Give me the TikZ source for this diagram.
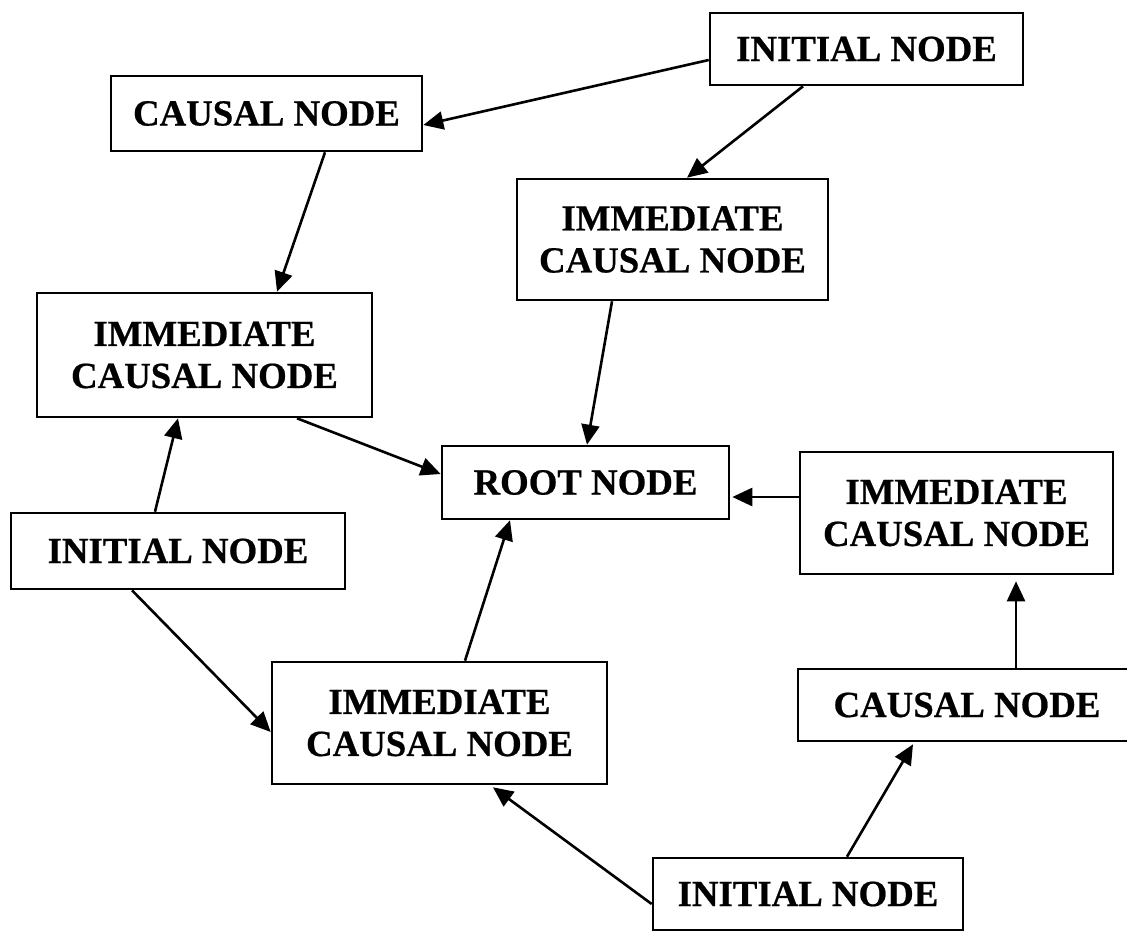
\documentclass[tikz,border=0pt]{standalone}
\usepackage{fontspec}
\setmainfont[BoldFeatures={FakeBold=0.6}]{Liberation Serif}
\usetikzlibrary{arrows.meta}
\begin{document}
\begin{tikzpicture}[x=1pt,y=-1pt,
  box/.style={draw=black, line width=2.6pt, inner sep=0pt, align=center,
    font=\fontsize{36.8}{42}\selectfont\bfseries, text=black},
  arr/.style={draw=black, line width=2.6pt, -{Triangle[length=20pt,width=18pt]}}]
\useasboundingbox[fill=white] (0,0) rectangle (1127,932);
\node[box, minimum width=313pt, minimum height=72pt] (ini1) at (866.5,49) {INITIAL NODE};
\node[box, minimum width=311pt, minimum height=75pt] (cau1) at (266.5,113.5) {CAUSAL NODE};
\node[box, minimum width=311pt, minimum height=121pt] (imm1) at (672.5,239.5) {IMMEDIATE\\CAUSAL NODE};
\node[box, minimum width=335pt, minimum height=124pt] (imm2) at (204.5,355) {IMMEDIATE\\CAUSAL NODE};
\node[box, minimum width=287pt, minimum height=73pt] (root) at (585.5,482.5) {ROOT NODE};
\node[box, minimum width=313pt, minimum height=122pt] (imm3) at (956.5,513) {IMMEDIATE\\CAUSAL NODE};
\node[box, minimum width=334pt, minimum height=76pt] (ini2) at (178,551) {INITIAL NODE};
\node[box, minimum width=335pt, minimum height=122pt] (imm4) at (439.5,723) {IMMEDIATE\\CAUSAL NODE};
\node[box, minimum width=338pt, minimum height=72pt] (cau2) at (967,705) {CAUSAL NODE};
\node[box, minimum width=310pt, minimum height=72pt] (ini3) at (808,894) {INITIAL NODE};
\draw[arr] ([yshift=-11pt]ini1.west) -- ([yshift=-11.5pt]cau1.east);
\draw[arr] ([xshift=-63.5pt]ini1.south) -- ([xshift=14.5pt]imm1.north);
\draw[arr] ([xshift=58.5pt]cau1.south) -- ([xshift=72.5pt]imm2.north);
\draw[arr] ([xshift=-60.5pt]imm1.south) -- ([xshift=1.5pt]root.north);
\draw[arr] ([xshift=92.5pt]imm2.south) -- ([yshift=8.5pt]root.west);
\draw[arr] ([xshift=-23pt]ini2.north) -- ([xshift=-26.5pt]imm2.south);
\draw[arr] ([xshift=-46pt]ini2.south) -- ([yshift=-9pt]imm4.west);
\draw[arr] ([xshift=25.5pt]imm4.north) -- ([xshift=-75.5pt]root.south);
\draw[arr] ([yshift=16pt]imm3.west) -- ([xshift=2pt,yshift=-14.5pt]root.east);
\draw[arr] ([xshift=49pt]cau2.north) -- ([xshift=59.5pt,yshift=-6pt]imm3.south);
\draw[arr] ([yshift=-10pt]ini3.west) -- ([xshift=53.5pt,yshift=-2pt]imm4.south);
\draw[arr] ([xshift=39pt]ini3.north) -- ([xshift=-54pt,yshift=-2pt]cau2.south);
\end{tikzpicture}
\end{document}
